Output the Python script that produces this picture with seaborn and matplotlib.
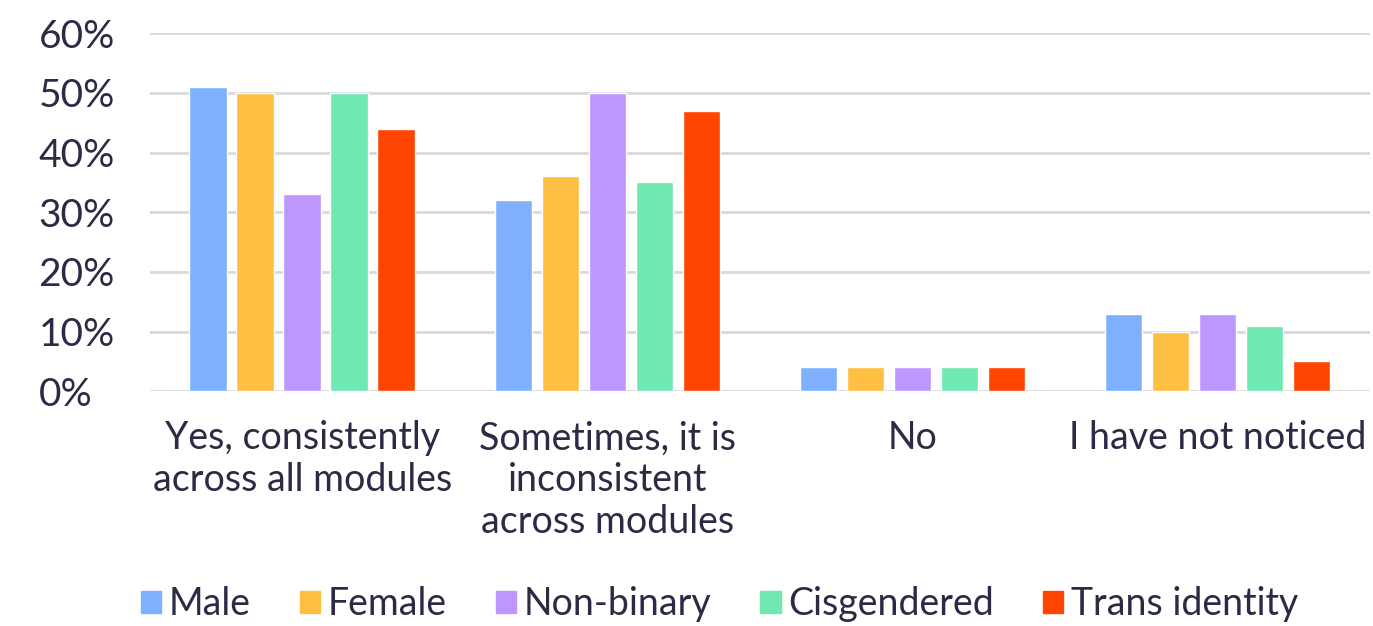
import pandas as pd
import seaborn as sns
import matplotlib.pyplot as plt
from matplotlib.ticker import PercentFormatter
from matplotlib.patches import Patch

categories = ["Yes, consistently\nacross all modules",
              "Sometimes, it is\ninconsistent\nacross modules",
              "No",
              "I have not noticed"]
groups = ["Male", "Female", "Non-binary", "Cisgendered", "Trans identity"]
male = [51, 32, 4, 13]
female = [50, 36, 4, 10]
non_binary = [33, 50, 4, 13]
cisgendered = [50, 35, 4, 11]
trans = [44, 47, 4, 5]
colors = ["#7FB0FF", "#FFBF43", "#BE97FE", "#6FE8B2", "#FF4500"]

rows = []
for g, vals in zip(groups, [male, female, non_binary, cisgendered, trans]):
    for c, v in zip(categories, vals):
        rows.append({"category": c, "group": g, "value": v})
df = pd.DataFrame(rows)

sns.set_style("white")
plt.rcParams["font.family"] = ["Lato", "DejaVu Sans"]
text_color = "#2B2B45"

fig = plt.figure(figsize=(13.73, 6.26), dpi=100)
ax = fig.add_axes([0.109, 0.375, 0.889, 0.572])

sns.barplot(data=df, x="category", y="value", hue="group", order=categories,
            hue_order=groups, palette=colors, width=0.77, gap=0.2,
            saturation=1, ax=ax, legend=False)

ax.set_ylim(0, 60)
ax.set_xlim(-0.5, 3.5)
ax.set_yticks(range(0, 61, 10))
ax.yaxis.set_major_formatter(PercentFormatter(decimals=0))
ax.grid(axis="y", color="#D9D9D9", linewidth=2)
ax.set_axisbelow(True)
for s in ax.spines.values():
    s.set_visible(False)
ax.set_xlabel("")
ax.set_ylabel("")
ax.tick_params(axis="y", length=0, labelsize=28, labelcolor=text_color, pad=80)
ax.tick_params(axis="x", length=0, labelsize=27, labelcolor=text_color, pad=21)
for lbl in ax.get_yticklabels():
    lbl.set_horizontalalignment("left")
for lbl in ax.get_xticklabels():
    lbl.set_verticalalignment("top")
    lbl.set_linespacing(1.2)

handles = [Patch(color=c, label=g) for g, c in zip(groups, colors)]
fig.legend(handles=handles, loc="center", bbox_to_anchor=(0.524, 0.035),
           ncol=5, frameon=False, fontsize=27, labelcolor=text_color,
           handlelength=0.55, handleheight=0.55, handletextpad=0.2,
           columnspacing=1.3)

fig.savefig("out.png", dpi=100)
